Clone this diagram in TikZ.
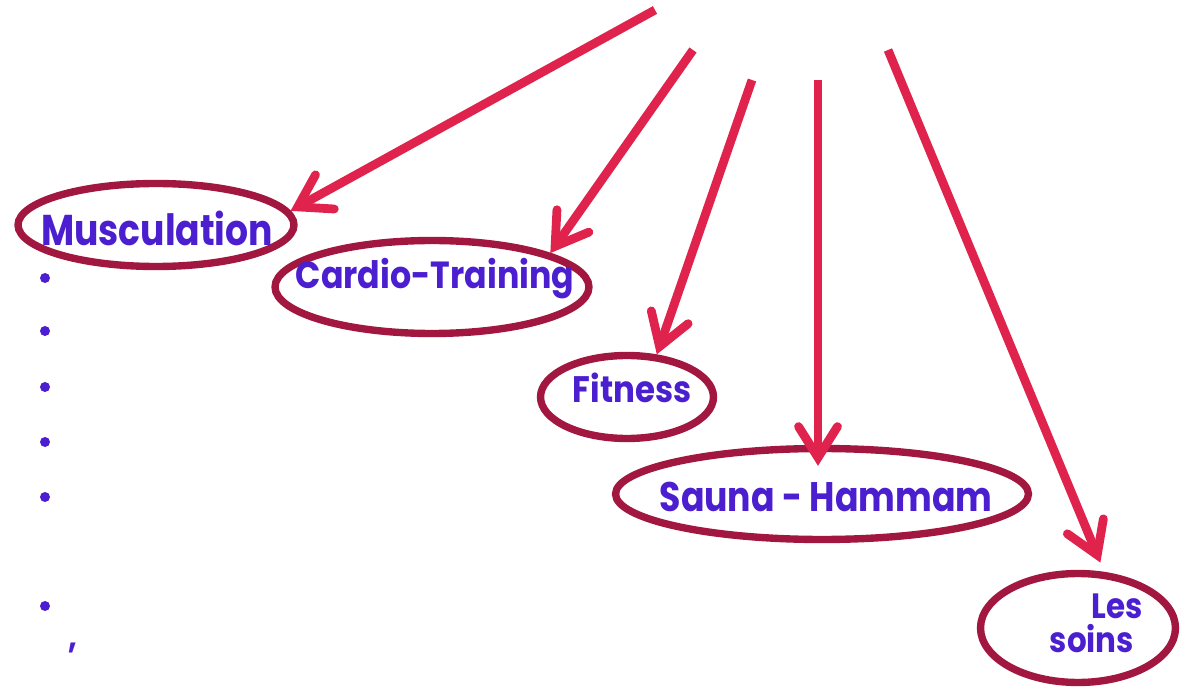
\documentclass[tikz,border=0pt]{standalone}
\usepackage{fontspec}
\setmainfont{Poppins}
\newfontfamily\gfont{Poppins}[FakeStretch=0.88]
\newfontfamily\gfontn{Poppins}[FakeStretch=0.84]
\usetikzlibrary{arrows.meta,shapes.geometric}
\definecolor{txtc}{HTML}{4B1FCF}
\definecolor{ellc}{HTML}{A2173F}
\definecolor{arrc}{HTML}{E0234D}
\tikzset{
  oval/.style={draw=ellc, line width=4.2pt, ellipse, inner sep=0pt},
  lab/.style={text=txtc, inner sep=0pt, anchor=center},
  arr/.style={draw=arrc, line width=5pt,
    -{Straight Barb[length=6.2mm,width=7.8mm,line cap=round]}},
  bul/.style={circle, fill=txtc, inner sep=0pt, minimum size=0.2cm}
}
\begin{document}
\begin{tikzpicture}[x=0.02cm,y=-0.02cm]
\useasboundingbox (0,0) rectangle (1181,689);

% ovals
\node[oval, minimum width=5.52cm, minimum height=1.66cm] (mus) at (156,225) {};
\node[oval, minimum width=6.28cm, minimum height=1.86cm] (car) at (432,287) {};
\node[oval, minimum width=3.46cm, minimum height=1.66cm] (fit) at (627,397) {};
\node[oval, minimum width=8.26cm, minimum height=1.82cm] (sau) at (822,494) {};
\node[oval, minimum width=3.90cm, minimum height=2.18cm] (soi) at (1078,628) {};

% labels
\node[lab, font=\gfontn\bfseries\fontsize{24.5}{28}\selectfont] (tmus) at (157,228) {Musculation};
\node[lab, font=\gfont\bfseries\fontsize{21.5}{24}\selectfont] (tcar) at (435,279) {Cardio-Training};
\node[lab, font=\gfont\bfseries\fontsize{21}{24}\selectfont] (tfit) at (632,388) {Fitness};
\node[lab, font=\gfontn\bfseries\fontsize{23.5}{26}\selectfont] (tsau) at (826,497) {Sauna - Hammam};
\node[lab, font=\gfont\bfseries\fontsize{20}{22}\selectfont, anchor=base east] (tles) at (1143,618) {Les};
\node[lab, font=\gfont\bfseries\fontsize{20}{22}\selectfont, anchor=base] (tsoi) at (1092,652) {soins};

% arrow starts
\coordinate (s1) at (655,10);
\coordinate (s2) at (693,50);
\coordinate (s3) at (752,80);
\coordinate (s4) at (818,80);
\coordinate (s5) at (888,50);

\draw[arr] (s1) -- (mus.6);
\draw[arr] (s2) -- (car.16);
\draw[arr] (s3) -- (fit.55);
\draw[arr, shorten >=-0.42cm] (s4) -- (sau.north -| s4);
\draw[arr, shorten >=0.2cm] (s5) -- (soi.65);

% bullets
\node[bul] (b1) at (45,278) {};
\node[bul] (b2) at (45,331) {};
\node[bul] (b3) at (45,387) {};
\node[bul] (b4) at (45,442) {};
\node[bul] (b5) at (45,497) {};
\node[bul] (b6) at (45,606) {};
\node[lab, font=\gfont\bfseries\fontsize{20}{22}\selectfont] (comma) at (73,648) {,};
\end{tikzpicture}
\end{document}
